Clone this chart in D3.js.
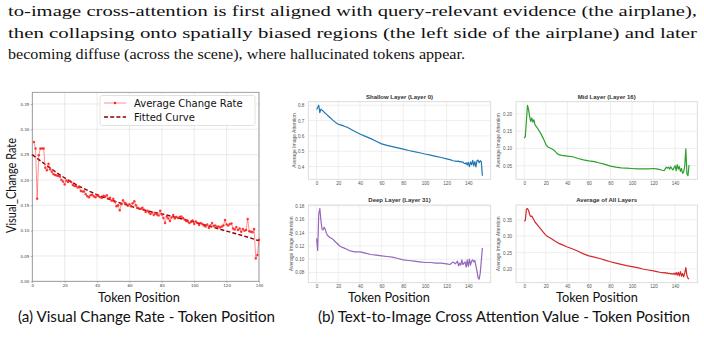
<!DOCTYPE html>
<html>
<head>
<meta charset="utf-8">
<script src="https://cdn.jsdelivr.net/npm/d3@7"></script>
<style>
  body { margin: 0; background: #fff; }
  svg { display: block; }
</style>
</head>
<body>
<div id="figure"></div>
<script>
"use strict"

const WIDTH = 704
const HEIGHT = 347

// paragraph above the figure
const introLines = [
    "to-image cross-attention is first aligned with query-relevant evidence (the airplane),",
    "then collapsing onto spatially biased regions (the left side of the airplane) and later",
    "becoming diffuse (across the scene), where hallucinated tokens appear."
]

// (a) average visual change rate, tokens 1..140
const changeRate = [
    0.275, 0.262, 0.163, 0.249, 0.262, 0.262, 0.262, 0.224, 0.219, 0.232,
    0.221, 0.216, 0.212, 0.210, 0.209, 0.208, 0.207, 0.200, 0.197, 0.191,
    0.199, 0.196, 0.198, 0.196, 0.190, 0.188, 0.188, 0.185, 0.186, 0.178,
    0.177, 0.177, 0.172, 0.168, 0.166, 0.170, 0.171, 0.168, 0.166, 0.170,
    0.168, 0.166, 0.165, 0.169, 0.167, 0.170, 0.163, 0.165, 0.159, 0.163,
    0.157, 0.148, 0.150, 0.140, 0.152, 0.160, 0.155, 0.153, 0.149, 0.152,
    0.148, 0.154, 0.158, 0.150, 0.145, 0.143, 0.143, 0.145, 0.141, 0.137,
    0.139, 0.136, 0.133, 0.136, 0.131, 0.134, 0.132, 0.130, 0.139, 0.132,
    0.125, 0.115, 0.128, 0.124, 0.119, 0.126, 0.131, 0.124, 0.127, 0.125,
    0.127, 0.128, 0.125, 0.122, 0.119, 0.118, 0.115, 0.117, 0.120, 0.113,
    0.118, 0.115, 0.111, 0.115, 0.113, 0.110, 0.108, 0.112, 0.105, 0.110,
    0.115, 0.109, 0.110, 0.107, 0.108, 0.106, 0.108, 0.110, 0.121, 0.112,
    0.110, 0.113, 0.114, 0.104, 0.102, 0.107, 0.101, 0.104, 0.098, 0.103,
    0.100, 0.101, 0.123, 0.099, 0.098, 0.097, 0.103, 0.045, 0.052, 0.082
]
const fittedTokens = [0, 10, 20, 30, 40, 50, 60, 70, 80, 90, 100, 110, 120, 130, 140]
const fittedValues = [0.250, 0.226, 0.204, 0.186, 0.171, 0.159, 0.149, 0.140, 0.133, 0.125, 0.117, 0.108, 0.099, 0.090, 0.080]
const leftXTicks = [0, 20, 40, 60, 80, 100, 120, 140]
const leftYTicks = [0, 0.05, 0.10, 0.15, 0.20, 0.25, 0.30, 0.35]

// (b) cross attention per token, read at these token positions
const attnTokens = [
    0, 1, 2, 3, 4, 5, 6, 7, 8, 9, 10, 12, 15, 18, 20, 22, 25, 28, 30, 32, 35,
    40, 45, 50, 55, 60, 65, 70, 75, 80, 85, 90, 95, 100, 105, 110, 115, 120,
    123, 126, 128, 130, 131, 132, 133, 134, 135, 136, 137, 138, 139, 140,
    141, 142, 143, 144, 145, 146, 147, 148, 149, 150, 151, 152, 153
]
const shallowAttn = [
    0.772, 0.785, 0.800, 0.752, 0.775, 0.768, 0.762, 0.755, 0.748, 0.742, 0.735,
    0.722, 0.703, 0.685, 0.676, 0.672, 0.665, 0.656, 0.650, 0.642, 0.630,
    0.612, 0.597, 0.582, 0.565, 0.548, 0.538, 0.530, 0.522, 0.514, 0.505, 0.497,
    0.490, 0.482, 0.475, 0.467, 0.459, 0.450,
    0.445, 0.438, 0.436, 0.434, 0.436, 0.431, 0.433, 0.428, 0.430, 0.422, 0.418,
    0.425, 0.410, 0.428, 0.400, 0.430, 0.412, 0.440, 0.405, 0.432, 0.398, 0.438,
    0.442, 0.425, 0.438, 0.430, 0.340
]
const midAttn = [
    0.130, 0.135, 0.180, 0.225, 0.212, 0.193, 0.178, 0.188, 0.176, 0.183, 0.168,
    0.160, 0.145, 0.127, 0.112, 0.104, 0.100, 0.094, 0.087, 0.082, 0.080,
    0.078, 0.076, 0.071, 0.067, 0.064, 0.062, 0.058, 0.054, 0.049, 0.046, 0.044,
    0.043, 0.042, 0.041, 0.041, 0.041, 0.042,
    0.041, 0.039, 0.037, 0.036, 0.042, 0.046, 0.043, 0.046, 0.040, 0.047, 0.042,
    0.038, 0.044, 0.050, 0.036, 0.053, 0.040, 0.048, 0.034, 0.042, 0.028, 0.032,
    0.050, 0.099, 0.026, 0.021, 0.052
]
const deepAttn = [
    0.131, 0.113, 0.168, 0.176, 0.158, 0.145, 0.144, 0.148, 0.145, 0.139, 0.136,
    0.133, 0.130, 0.125, 0.122, 0.119, 0.117, 0.115, 0.113, 0.112, 0.111,
    0.111, 0.109, 0.107, 0.106, 0.105, 0.104, 0.103, 0.101, 0.099, 0.098, 0.097,
    0.096, 0.095, 0.095, 0.094, 0.094, 0.093,
    0.092, 0.096, 0.093, 0.097, 0.090, 0.094, 0.091, 0.099, 0.092, 0.094, 0.096,
    0.088, 0.099, 0.089, 0.100, 0.091, 0.097, 0.099, 0.096, 0.098, 0.090, 0.082,
    0.072, 0.070, 0.079, 0.098, 0.117
]
const avgAttn = [
    0.345, 0.348, 0.382, 0.384, 0.378, 0.366, 0.360, 0.361, 0.355, 0.349, 0.343,
    0.335, 0.323, 0.311, 0.303, 0.298, 0.293, 0.286, 0.282, 0.278, 0.274,
    0.267, 0.261, 0.254, 0.246, 0.240, 0.236, 0.232, 0.227, 0.222, 0.218, 0.214,
    0.210, 0.207, 0.204, 0.200, 0.197, 0.194,
    0.192, 0.190, 0.189, 0.188, 0.189, 0.187, 0.188, 0.186, 0.187, 0.185, 0.186,
    0.184, 0.187, 0.183, 0.189, 0.181, 0.190, 0.179, 0.192, 0.178, 0.186, 0.176,
    0.188, 0.204, 0.180, 0.172, 0.169
]
const attnXTicks = [0, 20, 40, 60, 80, 100, 120, 140]
const shallowYTicks = [0.4, 0.5, 0.6, 0.7, 0.8]
const midYTicks = [0.05, 0.10, 0.15, 0.20]
const deepYTicks = [0.08, 0.10, 0.12, 0.14, 0.16, 0.18]
const avgYTicks = [0.20, 0.25, 0.30, 0.35]

const panelTitles = ["Shallow Layer (Layer 0)", "Mid Layer (Layer 16)", "Deep Layer (Layer 31)", "Average of All Layers"]
const panelColors = ["#1f77b4", "#2ca02c", "#9467bd", "#d62728"]

const LABEL_FONT = "Lato, 'Open Sans', sans-serif"
const MPL_FONT = "'DejaVu Sans', sans-serif"
const SNS_FONT = "'Liberation Sans', Arial, sans-serif"


const svg = d3.select("#figure").append("svg")
    .attr("width", WIDTH).attr("height", HEIGHT)

svg.append("rect").attr("width", WIDTH).attr("height", HEIGHT).attr("fill", "#fff")


function drawIntro() {
    // justified paragraph lines, the last one is left ragged
    const baselines = [16, 37.5, 59]
    const lengths = [689, 689, 457]
    introLines.forEach((line, i) => {
        svg.append("text")
            .attr("x", 8).attr("y", baselines[i])
            .attr("font-family", "'Liberation Serif', 'DejaVu Serif', serif")
            .attr("font-size", 15.5).attr("fill", "#111")
            .attr("textLength", lengths[i]).attr("lengthAdjust", "spacingAndGlyphs")
            .text(line)
    })
}


function drawChangeRate() {
    const box = { left: 32.3, right: 259, top: 92.3, bottom: 281.3 }

    const x = d3.scaleLinear().domain([0, 140]).range([box.left, box.right])
    const y = d3.scaleLinear().domain([0, 0.373]).range([box.bottom, box.top])

    const g = svg.append("g")

    // grid
    g.append("g").selectAll("line").data(leftXTicks).join("line")
        .attr("x1", d => x(d)).attr("x2", d => x(d))
        .attr("y1", box.top).attr("y2", box.bottom)
        .attr("stroke", "#e3e3e3").attr("stroke-width", 0.7)
    g.append("g").selectAll("line").data(leftYTicks).join("line")
        .attr("x1", box.left).attr("x2", box.right)
        .attr("y1", d => y(d)).attr("y2", d => y(d))
        .attr("stroke", "#e3e3e3").attr("stroke-width", 0.7)

    // axes, tiny tick labels like the original
    const xAxis = g.append("g").attr("transform", `translate(0,${box.bottom})`)
        .call(d3.axisBottom(x).tickValues(leftXTicks).tickSize(1.5).tickPadding(1).tickFormat(d3.format("d")))
    const yAxis = g.append("g").attr("transform", `translate(${box.left},0)`)
        .call(d3.axisLeft(y).tickValues(leftYTicks).tickSize(1.5).tickPadding(1.5).tickFormat(d3.format(".2f")))
    for (const ax of [xAxis, yAxis]) {
        ax.select(".domain").remove()
        ax.selectAll("line").attr("stroke", "#666").attr("stroke-width", 0.5)
        ax.selectAll("text").attr("font-family", MPL_FONT).attr("font-size", 4).attr("fill", "#444")
    }

    // frame
    g.append("rect")
        .attr("x", box.left).attr("y", box.top)
        .attr("width", box.right - box.left).attr("height", box.bottom - box.top)
        .attr("fill", "none").attr("stroke", "#8a8a8a").attr("stroke-width", 0.8)

    // fitted curve
    const fitted = fittedTokens.map((t, i) => [t, fittedValues[i]])
    g.append("path")
        .attr("d", d3.line().x(d => x(d[0])).y(d => y(d[1])).curve(d3.curveMonotoneX)(fitted))
        .attr("fill", "none").attr("stroke", "#8b0000")
        .attr("stroke-width", 1.4).attr("stroke-dasharray", "4,2.2")

    // measured rate: thin line with small dots
    const rate = changeRate.map((v, i) => [i + 1, v])
    g.append("path")
        .attr("d", d3.line().x(d => x(d[0])).y(d => y(d[1]))(rate))
        .attr("fill", "none").attr("stroke", "#ff2a2a")
        .attr("stroke-opacity", 0.65).attr("stroke-width", 0.8)
    g.append("g").selectAll("circle").data(rate).join("circle")
        .attr("cx", d => x(d[0])).attr("cy", d => y(d[1])).attr("r", 1.25)
        .attr("fill", "#ff1f1f").attr("fill-opacity", 0.85)

    // legend
    const lg = g.append("g")
    lg.append("rect").attr("x", 100).attr("y", 95.5).attr("width", 155).attr("height", 30)
        .attr("rx", 2).attr("fill", "#fff").attr("fill-opacity", 0.85)
        .attr("stroke", "#d5d5d5").attr("stroke-width", 0.7)
    lg.append("line").attr("x1", 104).attr("x2", 126).attr("y1", 103).attr("y2", 103)
        .attr("stroke", "#ff2a2a").attr("stroke-opacity", 0.65).attr("stroke-width", 0.8)
    lg.append("circle").attr("cx", 115).attr("cy", 103).attr("r", 1.25).attr("fill", "#ff1f1f")
    lg.append("line").attr("x1", 104).attr("x2", 126).attr("y1", 117).attr("y2", 117)
        .attr("stroke", "#8b0000").attr("stroke-width", 1.4).attr("stroke-dasharray", "4,2.2")
    lg.append("text").attr("x", 134).attr("y", 106.5).text("Average Change Rate")
    lg.append("text").attr("x", 134).attr("y", 120.5).text("Fitted Curve")
    lg.selectAll("text").attr("font-family", MPL_FONT).attr("font-size", 10).attr("fill", "#111")

    // axis titles
    svg.append("text")
        .attr("transform", "translate(16,185.5) rotate(-90)")
        .attr("text-anchor", "middle")
        .attr("font-family", LABEL_FONT).attr("font-size", 13).attr("fill", "#111")
        .attr("textLength", 95).attr("lengthAdjust", "spacingAndGlyphs")
        .text("Visual_Change Rate")
    svg.append("text")
        .attr("x", 139).attr("y", 302).attr("text-anchor", "middle")
        .attr("font-family", LABEL_FONT).attr("font-size", 14).attr("fill", "#111")
        .attr("textLength", 82).attr("lengthAdjust", "spacingAndGlyphs")
        .text("Token Position")
}


function drawPanel(cfg) {
    const box = cfg.box
    const points = attnTokens.map((t, i) => [t, cfg.values[i]])

    // matplotlib style autoscale with 5% margins
    const xExt = d3.extent(attnTokens)
    const yExt = d3.extent(cfg.values)
    const xPad = (xExt[1] - xExt[0]) * 0.05
    const yPad = (yExt[1] - yExt[0]) * 0.05

    const x = d3.scaleLinear().domain([xExt[0] - xPad, xExt[1] + xPad]).range([box.left, box.right])
    const y = d3.scaleLinear().domain([yExt[0] - yPad, yExt[1] + yPad]).range([box.bottom, box.top])

    const g = svg.append("g")

    g.append("g").selectAll("line").data(attnXTicks).join("line")
        .attr("x1", d => x(d)).attr("x2", d => x(d))
        .attr("y1", box.top).attr("y2", box.bottom)
        .attr("stroke", "#e8e8e8").attr("stroke-width", 0.7)
    g.append("g").selectAll("line").data(cfg.yTicks).join("line")
        .attr("x1", box.left).attr("x2", box.right)
        .attr("y1", d => y(d)).attr("y2", d => y(d))
        .attr("stroke", "#e8e8e8").attr("stroke-width", 0.7)

    g.append("rect")
        .attr("x", box.left).attr("y", box.top)
        .attr("width", box.right - box.left).attr("height", box.bottom - box.top)
        .attr("fill", "none").attr("stroke", "#d4d4d4").attr("stroke-width", 0.8)

    const xAxis = g.append("g").attr("transform", `translate(0,${box.bottom})`)
        .call(d3.axisBottom(x).tickValues(attnXTicks).tickSize(0).tickPadding(2).tickFormat(d3.format("d")))
    const yAxis = g.append("g").attr("transform", `translate(${box.left},0)`)
        .call(d3.axisLeft(y).tickValues(cfg.yTicks).tickSize(0).tickPadding(4).tickFormat(d3.format(cfg.fmt)))
    for (const ax of [xAxis, yAxis]) {
        ax.select(".domain").remove()
        ax.selectAll("text").attr("font-family", SNS_FONT).attr("font-size", 4.6).attr("fill", "#555")
    }

    g.append("path")
        .attr("d", d3.line().x(d => x(d[0])).y(d => y(d[1]))(points))
        .attr("fill", "none").attr("stroke", cfg.color)
        .attr("stroke-width", 1.2).attr("stroke-linejoin", "round")

    g.append("text")
        .attr("x", (box.left + box.right) / 2).attr("y", box.top - 3)
        .attr("text-anchor", "middle")
        .attr("font-family", SNS_FONT).attr("font-weight", "bold")
        .attr("font-size", 6).attr("fill", "#333")
        .text(cfg.title)

    g.append("text")
        .attr("transform", `translate(${cfg.labelX},${(box.top + box.bottom) / 2}) rotate(-90)`)
        .attr("text-anchor", "middle")
        .attr("font-family", SNS_FONT).attr("font-size", 5).attr("fill", "#555")
        .text("Average Image Attention")
}


function drawAttention() {
    const boxes = [
        { left: 308.3, right: 490.7, top: 101.7, bottom: 179.3 },
        { left: 516, right: 697.3, top: 101.7, bottom: 179.3 },
        { left: 308.3, right: 490.7, top: 205, bottom: 282.7 },
        { left: 516, right: 697.3, top: 205, bottom: 282.7 }
    ]
    const series = [shallowAttn, midAttn, deepAttn, avgAttn]
    const yTicks = [shallowYTicks, midYTicks, deepYTicks, avgYTicks]
    const formats = [".1f", ".2f", ".2f", ".2f"]
    const labelX = [295.5, 500, 292.5, 500]

    series.forEach((values, i) => {
        drawPanel({
            box: boxes[i], values: values, yTicks: yTicks[i], fmt: formats[i],
            color: panelColors[i], title: panelTitles[i], labelX: labelX[i]
        })
    })

    // shared axis titles under the bottom row
    for (const cx of [389, 597]) {
        svg.append("text")
            .attr("x", cx).attr("y", 301.5).attr("text-anchor", "middle")
            .attr("font-family", LABEL_FONT).attr("font-size", 14).attr("fill", "#111")
            .attr("textLength", 82).attr("lengthAdjust", "spacingAndGlyphs")
            .text("Token Position")
    }
}


function drawCaptions() {
    svg.append("text")
        .attr("x", 18).attr("y", 322)
        .attr("font-family", LABEL_FONT).attr("font-size", 15).attr("fill", "#111")
        .attr("textLength", 257).attr("lengthAdjust", "spacingAndGlyphs")
        .text("(a) Visual Change Rate - Token Position")
    svg.append("text")
        .attr("x", 318).attr("y", 322)
        .attr("font-family", LABEL_FONT).attr("font-size", 15).attr("fill", "#111")
        .attr("textLength", 372).attr("lengthAdjust", "spacingAndGlyphs")
        .text("(b) Text-to-Image Cross Attention Value - Token Position")
}


drawIntro()
drawChangeRate()
drawAttention()
drawCaptions()
</script>
</body>
</html>
